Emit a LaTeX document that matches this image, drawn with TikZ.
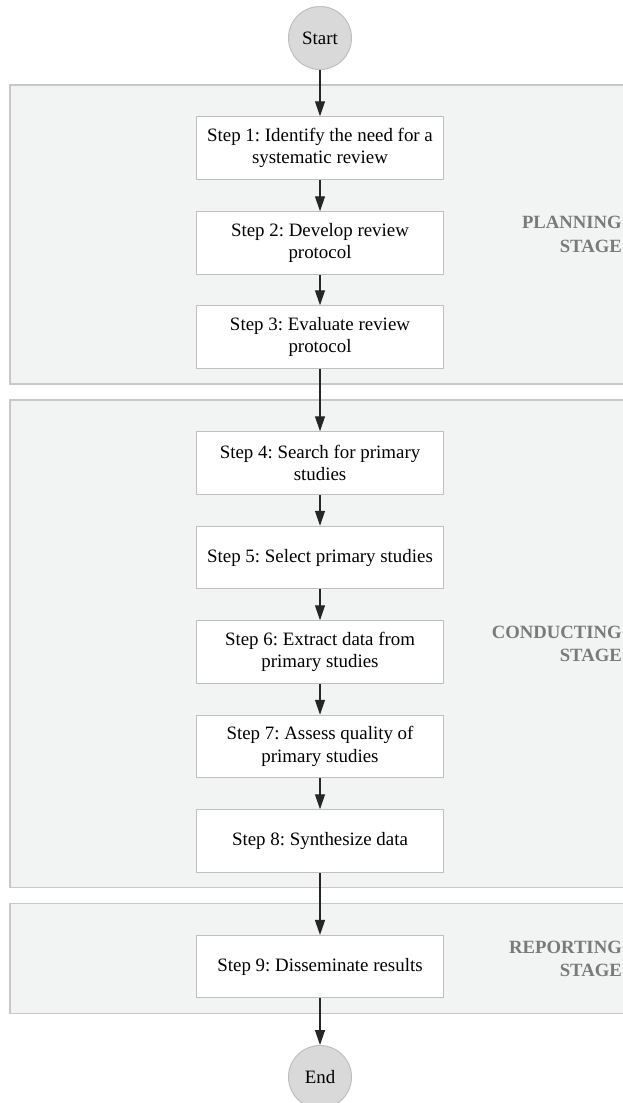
\documentclass[tikz,border=0pt]{standalone}
\usepackage{fontspec}
\setmainfont{Liberation Serif}
\usetikzlibrary{arrows.meta}
\definecolor{stagefill}{HTML}{F2F3F3}
\definecolor{stageline}{HTML}{C8C8C8}
\definecolor{boxline}{HTML}{BFBFBF}
\definecolor{termfill}{HTML}{D9D9D9}
\definecolor{labelgray}{HTML}{7A7A7A}
\definecolor{arrowcol}{HTML}{262626}
\frenchspacing

\begin{document}
\begin{tikzpicture}[x=1pt,y=-1pt,
  stagebox/.style={fill=stagefill,draw=stageline,line width=1.3pt},
  stepbox/.style={draw=boxline,fill=white,line width=1pt,
    minimum width=247pt,minimum height=62.5pt,align=center,inner sep=0pt,
    font=\fontsize{18.9}{22.6}\selectfont},
  term/.style={circle,draw=boxline,fill=termfill,line width=1pt,
    minimum size=63pt,inner sep=0pt,font=\fontsize{18.9}{22.6}\selectfont},
  stagelabel/.style={anchor=east,align=right,text=labelgray,inner sep=0pt,
    font=\fontsize{18.7}{23.3}\selectfont\bfseries},
  flow/.style={draw=arrowcol,line width=1.3pt,-{Triangle[width=10pt,length=15pt]}}]

\useasboundingbox (0,0) rectangle (623,1103);
\clip (0,0) rectangle (623,1103);

% stage backgrounds (open to the right)
\path[stagebox] (10,85) rectangle (660,384);
\path[stagebox] (10,400) rectangle (660,887.5);
\path[stagebox] (10,903.5) rectangle (660,1013.5);

% stage labels
\node[stagelabel] (lplan) at (622,234.5) {PLANNING\\STAGE};
\node[stagelabel] (lcond) at (622,643.8) {CONDUCTING\\STAGE};
\node[stagelabel] (lrep)  at (622,959) {REPORTING\\STAGE};

% terminals
\node[term] (start) at (320,38) {Start};
\node[term] (end) at (320,1077) {End};

% steps
\node[stepbox] (s1) at (320,148)   {Step 1: Identify the need for a\\systematic review};
\node[stepbox] (s2) at (320,243)   {Step 2: Develop review\\protocol};
\node[stepbox] (s3) at (320,337)   {Step 3: Evaluate review\\protocol};
\node[stepbox] (s4) at (320,463)   {Step 4: Search for primary\\studies};
\node[stepbox] (s5) at (320,557.5) {Step 5: Select primary studies};
\node[stepbox] (s6) at (320,652)   {Step 6: Extract data from\\primary studies};
\node[stepbox] (s7) at (320,746.5) {Step 7: Assess quality of\\primary studies};
\node[stepbox] (s8) at (320,841)   {Step 8: Synthesize data};
\node[stepbox] (s9) at (320,966.7) {Step 9: Disseminate results};

% flow
\draw[flow] (start) -- (s1);
\draw[flow] (s1) -- (s2);
\draw[flow] (s2) -- (s3);
\draw[flow] (s3) -- (s4);
\draw[flow] (s4) -- (s5);
\draw[flow] (s5) -- (s6);
\draw[flow] (s6) -- (s7);
\draw[flow] (s7) -- (s8);
\draw[flow] (s8) -- (s9);
\draw[flow] (s9) -- (end);
\end{tikzpicture}
\end{document}
